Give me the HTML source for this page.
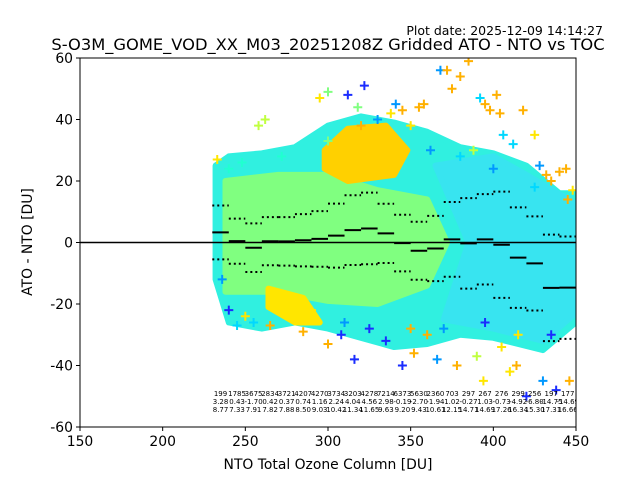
<!DOCTYPE html>
<html><head><meta charset="utf-8"><style>
body{margin:0;background:#fff;}
svg{display:block;font-family:"DejaVu Sans","Liberation Sans",sans-serif;}
</style></head><body>
<svg id="chart" width="640" height="480" viewBox="0 0 640 480">
<rect width="640" height="480" fill="#fff"/>
<text x="603" y="35" font-size="12.5" text-anchor="end">Plot date: 2025-12-09 14:14:27</text>
<text x="328" y="50" font-size="16.3" text-anchor="middle">S-O3M_GOME_VOD_XX_M03_20251208Z Gridded ATO - NTO vs TOC</text>
<defs><clipPath id="pc"><rect x="80" y="58" width="496" height="369"/></clipPath></defs>
<g id="plot" clip-path="url(#pc)"></g>
<rect x="80" y="58" width="496" height="369" fill="none" stroke="#000" stroke-width="1"/>
<g id="axes"></g>
<text x="328" y="469" font-size="13.9" text-anchor="middle">NTO Total Ozone Column [DU]</text>
<text x="32" y="242" font-size="13.9" text-anchor="middle" transform="rotate(-90 32 242)">ATO - NTO [DU]</text>
</svg>
<script>
const xTicks=[150,200,250,300,350,400,450];
const yTicks=[-60,-40,-20,0,20,40,60];
const binStarts=[230,240,250,260,270,280,290,300,310,320,330,340,350,360,370,380,390,400,410,420,430,440];
const binCounts=[199,1785,3675,2834,3721,4207,4270,3734,3203,4278,7214,6373,5630,2360,703,297,267,276,299,256,197,177];
const binMeans=[3.28,0.43,-1.70,0.42,0.37,0.74,1.16,2.24,4.04,4.56,2.98,-0.19,-2.70,-1.94,1.02,-0.27,1.03,-0.73,-4.92,-6.80,-14.75,-14.69];
const binStds=[8.77,7.33,7.91,7.82,7.88,8.50,9.03,10.42,11.34,11.65,9.63,9.20,9.43,10.61,12.15,14.71,14.69,17.26,16.34,15.30,17.31,16.66];
const cloudOuter=[[232,25],[240,28],[260,29],[280,31],[300,38],[320,41],[340,39],[360,36],[380,31],[400,29],[420,25],[440,16],[452,16],[452,-25],[430,-35],[400,-31],[380,-30],[360,-33],[340,-34],[320,-31],[300,-28],[280,-26],[260,-28],[240,-26],[232,-12]];
const cloudRight=[[365,25],[400,28],[420,22],[452,12],[452,-22],[430,-32],[400,-28],[370,-25],[385,0]];
const cloudGreen=[[238,20],[270,22],[300,22],[330,17],[360,14],[372,0],[360,-14],[330,-20],[300,-19],[270,-16],[238,-16]];
const yellowTop=[[298,30],[312,37],[335,38],[348,30],[340,22],[312,20],[298,24]];
const yellowBot=[[264,-15],[285,-18],[295,-26],[280,-26],[264,-21]];
const ptsX=[233,236,240,258,262,272,295,300,312,318,322,330,338,341,345,350,355,358,362,368,372,375,380,385,388,392,395,398,402,404,406,412,418,425,428,432,435,440,444,448,300,308,316,345,352,366,378,394,405,414,420,430,438,446,265,285,335,360,390,410,245,250,255,275,290,310,325,350,370,395,415,435,240,248,300,320,380,400,425,445];
const ptsY=[27,-12,-22,38,40,28,47,49,48,44,51,40,42,45,43,38,44,45,30,56,56,50,54,59,30,47,45,43,48,42,35,32,43,35,25,22,20,23,24,17,-33,-30,-38,-40,-36,-38,-40,-45,-34,-40,-50,-45,-48,-45,-27,-29,-32,-30,-37,-42,-27,-24,-26,-22,-22,-26,-28,-28,-28,-26,-30,-30,24,26,33,38,28,24,18,14];
const ptsC=[6,1,0,5,5,3,6,4,0,4,0,1,6,1,7,6,7,7,1,1,7,7,7,7,5,2,7,7,7,7,2,2,7,6,1,7,7,7,7,6,7,0,0,0,7,1,7,6,6,7,0,1,0,7,7,7,0,7,5,6,2,6,2,6,6,1,0,7,1,0,6,0,3,3,4,7,2,1,2,7];
const palette=["#1a2cff","#0098ff","#00d8ff","#20ffd0","#80ff80","#c0ff40","#ffe600","#ffb000"];

const NS="http://www.w3.org/2000/svg";
const X0=80,X1=576,Y0=427,Y1=58;
const xs=v=>X0+(v-150)*(X1-X0)/300;
const ys=v=>Y0-(v+60)*(Y0-Y1)/120;
const plot=document.getElementById('plot'),axes=document.getElementById('axes');
function mk(tag,attrs,parent){const e=document.createElementNS(NS,tag);for(const k in attrs)e.setAttribute(k,attrs[k]);parent.appendChild(e);return e;}
function poly(arr,fill,name){const e=mk('polygon',{points:arr.map(p=>xs(p[0])+','+ys(p[1])).join(' '),fill:fill,stroke:fill,'stroke-width':6,'stroke-linejoin':'round'},plot);

}
poly(cloudOuter,'#30f0e0','cloud-cyan');
poly(cloudRight,'#38e4f0','cloud-right-blue');
poly(cloudGreen,'#80ff80','cloud-green');
poly(yellowTop,'#ffd000','cloud-yellow-top');
poly(yellowBot,'#ffe600','cloud-yellow-bottom');
for(let i=0;i<ptsX.length;i++){
 const cx=xs(ptsX[i]),cy=ys(ptsY[i]);
 const p=mk('path',{d:`M${cx-4.5},${cy}H${cx+4.5}M${cx},${cy-4.5}V${cy+4.5}`,stroke:palette[ptsC[i]],'stroke-width':2,fill:'none'},plot);
 
 
}
const zl=mk('line',{x1:X0,x2:X1,y1:ys(0),y2:ys(0),stroke:'#000','stroke-width':1.5},plot);


for(let i=0;i<binStarts.length;i++){
 const a=xs(binStarts[i]),b=xs(binStarts[i]+10),m=binMeans[i],s=binStds[i];
 const mb=mk('line',{x1:a,x2:b,y1:ys(m),y2:ys(m),stroke:'#000','stroke-width':2},plot);
 
 
 for(const v of [m+s,m-s]){
  const d=mk('line',{x1:a,x2:b,y1:ys(v),y2:ys(v),stroke:'#000','stroke-width':2,'stroke-dasharray':'2,3'},plot);
  
  
 }
 const cx=(a+b)/2;
 const rows=[String(binCounts[i]),binMeans[i].toFixed(2),binStds[i].toFixed(2)];
 rows.forEach((t,r)=>{const tx=mk('text',{x:cx,y:396+r*8,'font-size':7,'text-anchor':'middle'},plot);tx.textContent=t;
 
 });
}
xTicks.forEach(t=>{const x=xs(t);mk('line',{x1:x,x2:x,y1:Y0,y2:Y0+4,stroke:'#000'},axes);
 const tx=mk('text',{x:x,y:Y0+19,'font-size':13.9,'text-anchor':'middle'},axes);tx.textContent=t;
 
 });
yTicks.forEach(t=>{const y=ys(t);mk('line',{x1:X0-4,x2:X0,y1:y,y2:y,stroke:'#000'},axes);
 const tx=mk('text',{x:X0-7,y:y+5,'font-size':13.9,'text-anchor':'end'},axes);tx.textContent=t;
 
 });
</script>
</body></html>
